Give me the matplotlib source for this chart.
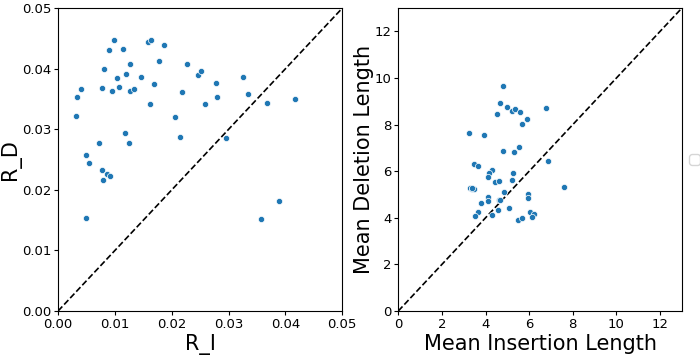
import matplotlib
matplotlib.use("Agg")
import matplotlib.pyplot as plt

# rate data (left panel)
r_i = [0.0031, 0.0034, 0.0040, 0.0049, 0.0054, 0.0049, 0.0072, 0.0077, 0.0079, 0.0086,
       0.0091, 0.0078, 0.0081, 0.0089, 0.0099, 0.0095, 0.0104, 0.0107, 0.0115, 0.0119,
       0.0126, 0.0127, 0.0134, 0.0118, 0.0124, 0.0145, 0.0158, 0.0163, 0.0169, 0.0162,
       0.0178, 0.0187, 0.0206, 0.0215, 0.0218, 0.0227, 0.0247, 0.0252, 0.0258, 0.0277,
       0.0279, 0.0296, 0.0325, 0.0334, 0.0368, 0.0416, 0.0357, 0.0388]
r_d = [0.0322, 0.0353, 0.0366, 0.0257, 0.0245, 0.0153, 0.0277, 0.0233, 0.0216, 0.0226,
       0.0223, 0.0368, 0.0400, 0.0431, 0.0448, 0.0364, 0.0385, 0.0370, 0.0432, 0.0391,
       0.0407, 0.0363, 0.0366, 0.0294, 0.0278, 0.0386, 0.0444, 0.0447, 0.0374, 0.0341,
       0.0412, 0.0440, 0.0320, 0.0288, 0.0362, 0.0408, 0.0389, 0.0397, 0.0342, 0.0376,
       0.0354, 0.0286, 0.0386, 0.0359, 0.0344, 0.0350, 0.0152, 0.0182]

# mean lengths (right panel)
ins_len = [4.79, 4.66, 5.00, 4.53, 5.20, 5.37, 5.58, 6.75, 5.91, 5.66,
           3.22, 3.92, 4.82, 5.30, 5.53, 6.86, 3.46, 3.64, 4.28, 4.16,
           4.10, 5.24, 5.20, 4.42, 4.60, 3.28, 3.38, 3.46, 7.59, 4.85,
           4.10, 4.10, 4.63, 5.96, 5.93, 3.80, 3.66, 3.52, 4.28, 4.56,
           5.08, 5.50, 5.69, 6.04, 6.20, 6.13, 4.65, 3.40]
del_len = [9.65, 8.91, 8.75, 8.47, 8.58, 8.65, 8.56, 8.73, 8.24, 8.04,
           7.62, 7.54, 6.86, 6.82, 7.02, 6.43, 6.31, 6.23, 6.06, 5.91,
           5.75, 5.94, 5.64, 5.52, 5.57, 5.30, 5.25, 5.24, 5.31, 5.12,
           4.91, 4.74, 4.77, 5.02, 4.83, 4.63, 4.24, 4.06, 4.13, 4.33,
           4.40, 3.89, 3.99, 4.27, 4.16, 4.03, 4.78, 5.26]

fig = plt.figure(figsize=(7, 3.55), dpi=100)
ax1 = fig.add_axes([0.083, 0.124, 0.406, 0.853])
ax2 = fig.add_axes([0.569, 0.124, 0.405, 0.853])

pt_style = dict(s=20, color='#1f77b4', edgecolor='white', linewidth=0.5, zorder=3)

ax1.scatter(r_i, r_d, **pt_style)
ax1.plot([0, 0.05], [0, 0.05], 'k--', linewidth=1.2)
ax1.set_xlim(0, 0.05)
ax1.set_ylim(0, 0.05)
ax1.set_xticks([0, 0.01, 0.02, 0.03, 0.04, 0.05])
ax1.set_yticks([0, 0.01, 0.02, 0.03, 0.04, 0.05])
ax1.set_xlabel('R_I', fontsize=15, labelpad=2)
ax1.set_ylabel('R_D', fontsize=15)
ax1.yaxis.set_label_coords(-0.13, 0.5)

ax2.scatter(ins_len, del_len, **pt_style)
ax2.plot([0, 13], [0, 13], 'k--', linewidth=1.2)
ax2.set_xlim(0, 13)
ax2.set_ylim(0, 13)
ax2.set_xticks(range(0, 13, 2))
ax2.set_yticks(range(0, 13, 2))
ax2.set_xlabel('Mean Insertion Length', fontsize=15, labelpad=2)
ax2.set_ylabel('Mean Deletion Length', fontsize=15)
ax2.yaxis.set_label_coords(-0.085, 0.5)
ax2.legend(handles=[], loc='center left', bbox_to_anchor=(1.0, 0.5))

for ax in (ax1, ax2):
    ax.tick_params(labelsize=9.5, length=3, pad=2)

fig.savefig('out.png', dpi=100)
